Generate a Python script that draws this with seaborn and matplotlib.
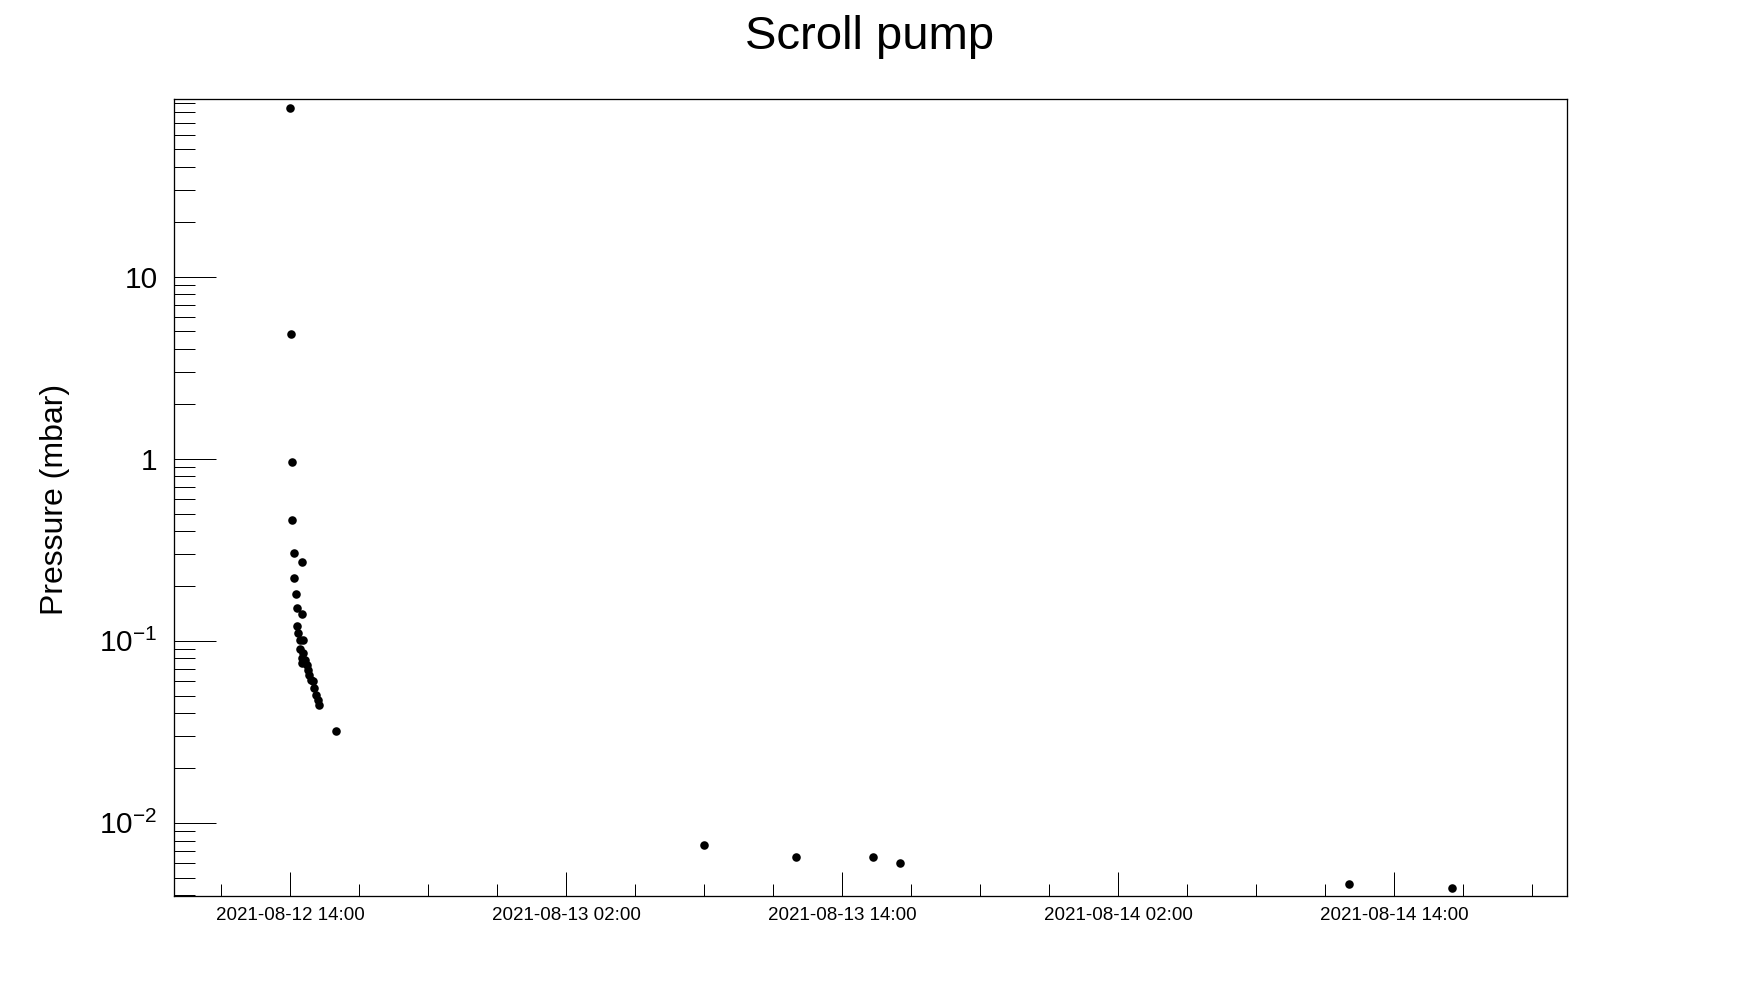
import matplotlib
matplotlib.use("Agg")
import matplotlib.pyplot as plt
import matplotlib.dates as mdates
from matplotlib.ticker import LogLocator, FixedLocator, NullFormatter
import seaborn as sns
import pandas as pd

# ---- data ----
times = [
    "2021-08-12 14:01", "2021-08-12 14:03", "2021-08-12 14:06", "2021-08-12 14:06",
    "2021-08-12 14:09", "2021-08-12 14:32", "2021-08-12 14:10", "2021-08-12 14:16",
    "2021-08-12 14:19", "2021-08-12 14:32", "2021-08-12 14:19", "2021-08-12 14:22",
    "2021-08-12 14:26", "2021-08-12 14:35", "2021-08-12 14:26", "2021-08-12 14:35",
    "2021-08-12 14:31", "2021-08-12 14:39", "2021-08-12 14:31", "2021-08-12 14:44",
    "2021-08-12 14:48", "2021-08-12 14:50", "2021-08-12 14:55", "2021-08-12 15:01",
    "2021-08-12 15:03", "2021-08-12 15:07", "2021-08-12 15:12", "2021-08-12 15:16",
    "2021-08-12 16:00", "2021-08-13 08:00", "2021-08-13 12:00", "2021-08-13 15:22",
    "2021-08-13 16:32", "2021-08-14 12:02", "2021-08-14 16:32",
]
pressure = [
    84.6, 4.82, 0.955, 0.459,
    0.302, 0.271, 0.220, 0.180,
    0.151, 0.140, 0.1206, 0.110,
    0.101, 0.101, 0.0901, 0.0854,
    0.0801, 0.0784, 0.0752, 0.0737,
    0.0691, 0.0649, 0.0609, 0.0601,
    0.0548, 0.0504, 0.0473, 0.0444,
    0.0320, 0.00753, 0.00650, 0.00650,
    0.00600, 0.00464, 0.00437,
]
ytick_values = [0.01, 0.1, 1, 10]
ytick_labels = [r"$\mathregular{10^{-2}}$", r"$\mathregular{10^{-1}}$", "1", "10"]
title = "Scroll pump"
ylabel = "Pressure (mbar)"
x_range = ("2021-08-12 08:58", "2021-08-14 21:32")
y_range = (0.003968, 94.1)

df = pd.DataFrame({"time": pd.to_datetime(times), "pressure": pressure})

sns.set_theme(style="white")
plt.rcParams["font.family"] = ["Liberation Sans", "DejaVu Sans"]
plt.rcParams["mathtext.fontset"] = "custom"
plt.rcParams["mathtext.rm"] = "Liberation Sans"
plt.rcParams["mathtext.it"] = "Liberation Sans:italic"
plt.rcParams["mathtext.bf"] = "Liberation Sans:bold"
plt.rcParams["text.color"] = "black"
plt.rcParams["axes.labelcolor"] = "black"
plt.rcParams["xtick.color"] = "black"
plt.rcParams["ytick.color"] = "black"

W, H = 1743, 996
fig = plt.figure(figsize=(W / 100, H / 100), dpi=100)
fig.patch.set_facecolor("white")
ax = fig.add_axes([174.3 / W, 1 - 896 / H, (1567.3 - 174.3) / W, (896 - 99.3) / H])

sns.scatterplot(data=df, x="time", y="pressure", ax=ax, color="black",
                s=38, linewidth=0, marker="o", legend=False)

ax.set_yscale("log")
ax.set_xlim(pd.Timestamp(x_range[0]), pd.Timestamp(x_range[1]))
ax.set_ylim(*y_range)

# x ticks
ax.xaxis.set_major_locator(mdates.HourLocator(byhour=[2, 14]))
ax.xaxis.set_minor_locator(mdates.HourLocator(byhour=list(range(2, 24, 3))))
ax.xaxis.set_major_formatter(mdates.DateFormatter("%Y-%m-%d %H:%M"))

# y ticks
ax.yaxis.set_major_locator(FixedLocator(ytick_values))
ax.set_yticklabels(ytick_labels)
ax.yaxis.set_minor_locator(LogLocator(base=10, subs=range(2, 10), numticks=50))
ax.yaxis.set_minor_formatter(NullFormatter())

px = 0.72
ax.tick_params(axis="x", which="major", direction="in", length=24 * px, width=1.0 * px,
               labelsize=13.5, pad=8, colors="black", bottom=True, top=False)
ax.tick_params(axis="x", which="minor", direction="in", length=12 * px, width=1.0 * px,
               bottom=True, top=False)
ax.tick_params(axis="y", which="major", direction="in", length=42 * px, width=1.0 * px,
               labelsize=21.5, pad=12, colors="black", left=True, right=False)
ax.tick_params(axis="y", which="minor", direction="in", length=21 * px, width=1.0 * px,
               left=True, right=False)

for sp in ax.spines.values():
    sp.set_visible(True)
    sp.set_color("black")
    sp.set_linewidth(1.3 * px)

ax.set_xlabel("")
ax.set_ylabel("")
ax.grid(False)

fig.text(870 / W, 1 - 49 / H, title, ha="center", va="baseline", fontsize=34, color="black")
fig.text(55 / W, 1 - 499 / H, ylabel, ha="center", va="center", rotation=90,
         fontsize=23, color="black")

fig.savefig("out.png", dpi=100, facecolor="white")
